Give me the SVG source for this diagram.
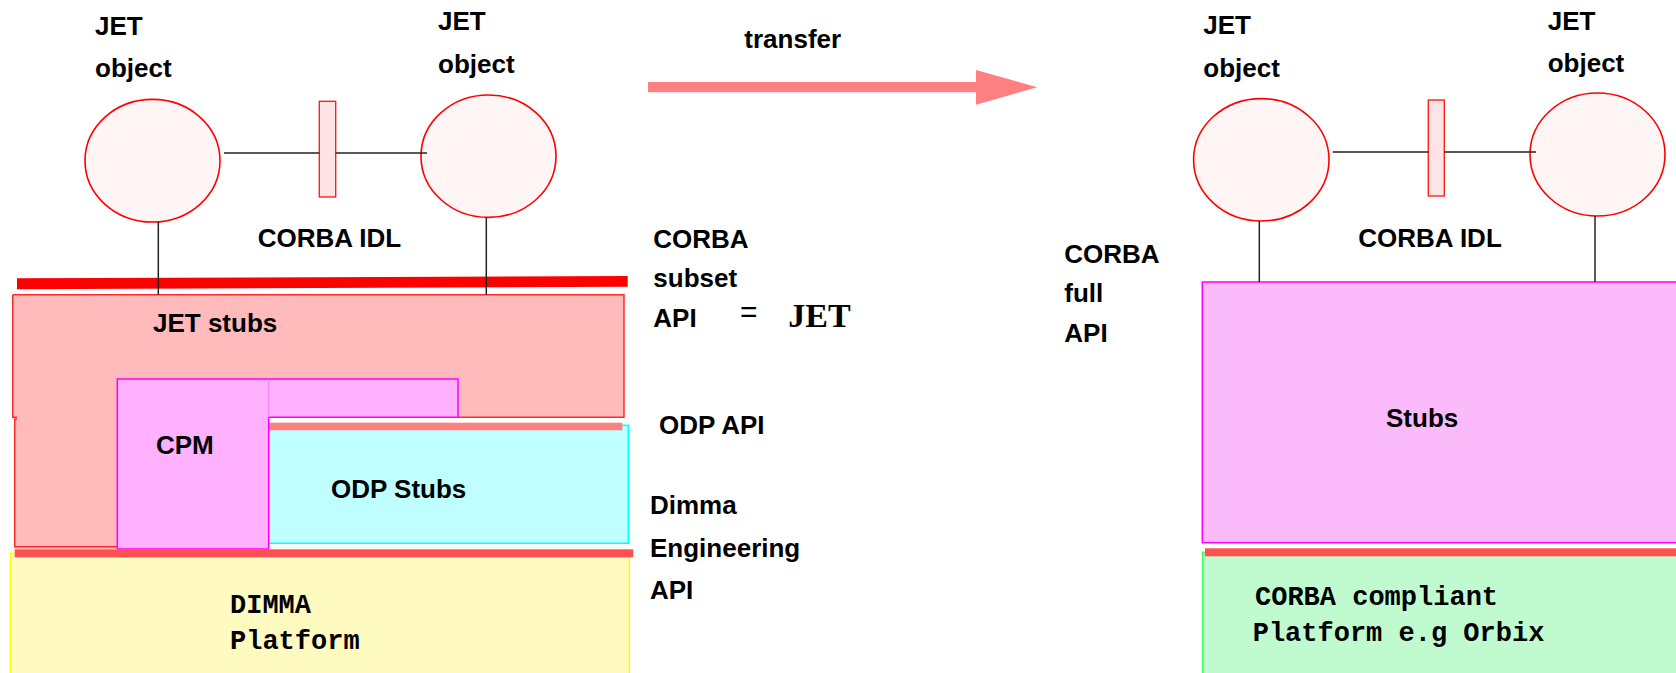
<svg xmlns="http://www.w3.org/2000/svg" width="1676" height="673" viewBox="0 0 1676 673">
<style>
.t{font-family:"Liberation Sans",Arial,sans-serif;font-weight:bold;font-size:26px;fill:#000}
.m{font-family:"Liberation Mono","Courier New",monospace;font-weight:bold;font-size:27px;fill:#000}
.obj{fill:#FFF5F5;stroke:#FF0000;stroke-width:1.6}
.iface{fill:#FFE4E6;stroke:#FF2020;stroke-width:1.4}
.ln{stroke:#222;stroke-width:1.5;fill:none}
</style>
<rect width="1676" height="673" fill="#fff"/>

<!-- LEFT SIDE -->
<g id="jet-stubs">
  <path d="M12.7,294.7 H624 V417.3 H268 V549 H14.7 V419.3 H12.7 Z" fill="#FFBBBB"/>
  <path d="M12.7,294.7 H624 V417.3 H440 M12.7,294.7 V417.3 H17 M17,419.3 H14.7 V546.7 H120" fill="none" stroke="#FF2A2A" stroke-width="1.5"/>
  <text class="t" x="153" y="331.7">JET stubs</text>
</g>
<g id="odp-stubs">
  <rect x="268.7" y="425.3" width="359.6" height="118" fill="#BFFFFF" stroke="#00FFFF" stroke-width="1.5"/>
  <text class="t" x="331" y="498.3">ODP Stubs</text>
</g>
<g id="odp-api-bar">
  <rect x="268.7" y="422.7" width="353.6" height="7.6" fill="#FF8080"/>
</g>
<g id="cpm">
  <rect x="117.3" y="379" width="151.4" height="170" fill="#FFB0FF" stroke="#FF00FF" stroke-width="1.5"/>
  <rect x="268.7" y="379" width="189.3" height="38.3" fill="#FFB0FF"/>
  <path d="M268.7,379 H458 V417.3 H268.7" fill="none" stroke="#FF00FF" stroke-width="1.5"/>
  <line x1="268.7" y1="379.5" x2="268.7" y2="417" stroke="#FF90FF" stroke-width="1.2"/>
  <text class="t" x="156" y="454.3">CPM</text>
</g>
<g id="dimma-platform">
  <rect x="10.7" y="553.3" width="618.6" height="130" fill="#FFFBC0" stroke="#FFFF00" stroke-width="1.5"/>
  <text class="m" x="230" y="613.3">DIMMA</text>
  <text class="m" x="230" y="649.3">Platform</text>
</g>
<g id="dimma-api-bar">
  <rect x="14.7" y="549.3" width="618.6" height="8" fill="#FF5050"/>
</g>
<g id="corba-subset-bar">
  <polygon points="17,278.3 627.7,276 627.7,286.7 17,289.3" fill="#FF0000"/>
</g>
<g id="jet-object-1">
  <ellipse class="obj" cx="152.5" cy="160.7" rx="67.5" ry="61.3"/>
  <text class="t" x="95" y="35">JET</text>
  <text class="t" x="95" y="77">object</text>
</g>
<g id="jet-object-2">
  <ellipse class="obj" cx="488.5" cy="156.2" rx="67.5" ry="61.2"/>
  <text class="t" x="438" y="30">JET</text>
  <text class="t" x="438" y="72.7">object</text>
</g>
<g id="idl-1">
  <rect class="iface" x="319.3" y="101.3" width="16.4" height="95.7"/>
  <text class="t" x="257.7" y="247.3">CORBA IDL</text>
</g>

<!-- MIDDLE -->
<g id="transfer">
  <polygon points="648,82 976,82 976,70 1037.3,87.3 976,104.7 976,92.3 648,92.3" fill="#FF8080"/>
  <text class="t" x="744.3" y="48.3">transfer</text>
</g>
<g id="label-subset">
  <text class="t" x="653.3" y="248.3">CORBA</text>
  <text class="t" x="653.3" y="287.3">subset</text>
  <text class="t" x="653.3" y="327.3">API</text>
  <text x="740" y="321.5" style="font-family:'Liberation Sans',Arial,sans-serif;font-size:30px;fill:#000">=</text>
  <text x="788.3" y="326.7" style="font-family:'Liberation Serif','Times New Roman',serif;font-weight:bold;font-size:34px;fill:#000">JET</text>
</g>
<g id="label-odp-api">
  <text class="t" x="659" y="434">ODP API</text>
</g>
<g id="label-eng-api">
  <text class="t" x="650" y="514">Dimma</text>
  <text class="t" x="650" y="556.7">Engineering</text>
  <text class="t" x="650" y="599">API</text>
</g>

<!-- RIGHT SIDE -->
<g id="label-full-api">
  <text class="t" x="1064.3" y="263.3">CORBA</text>
  <text class="t" x="1064.3" y="302">full</text>
  <text class="t" x="1064.3" y="341.7">API</text>
</g>
<g id="stubs">
  <rect x="1202.3" y="282" width="490" height="260.7" fill="#FBBBFB" stroke="#FF00FF" stroke-width="1.5"/>
  <text class="t" x="1386" y="426.7">Stubs</text>
</g>
<g id="corba-platform">
  <rect x="1202.7" y="552.3" width="490" height="130" fill="#C0FBD0" stroke="#40FF50" stroke-width="1.5"/>
  <text class="m" x="1255" y="605">CORBA compliant</text>
  <text class="m" x="1252.7" y="641">Platform e.g Orbix</text>
</g>
<g id="platform-api-bar">
  <rect x="1205" y="548.3" width="475" height="8" fill="#FF5050"/>
</g>
<g id="jet-object-3">
  <ellipse class="obj" cx="1261.3" cy="159.8" rx="67.7" ry="61.2"/>
  <text class="t" x="1203.3" y="34">JET</text>
  <text class="t" x="1203.3" y="76.7">object</text>
</g>
<g id="jet-object-4">
  <ellipse class="obj" cx="1597.5" cy="154.5" rx="67.5" ry="61.5"/>
  <text class="t" x="1547.7" y="30">JET</text>
  <text class="t" x="1547.7" y="72">object</text>
</g>
<g id="idl-2">
  <rect class="iface" x="1428.3" y="100" width="16" height="96"/>
  <text class="t" x="1358.3" y="246.7">CORBA IDL</text>
</g>

<g id="connectors">
  <line class="ln" x1="224" y1="153" x2="319.3" y2="153"/>
  <line class="ln" x1="335.7" y1="153" x2="427" y2="153"/>
  <line class="ln" x1="158.3" y1="222" x2="158.3" y2="294.7"/>
  <line class="ln" x1="486.3" y1="217.4" x2="486.3" y2="294.7"/>
  <line class="ln" x1="1332.7" y1="152" x2="1428.3" y2="152"/>
  <line class="ln" x1="1444.3" y1="152" x2="1536" y2="152"/>
  <line class="ln" x1="1259.3" y1="221" x2="1259.3" y2="282"/>
  <line class="ln" x1="1595" y1="216" x2="1595" y2="282"/>
</g>
</svg>
